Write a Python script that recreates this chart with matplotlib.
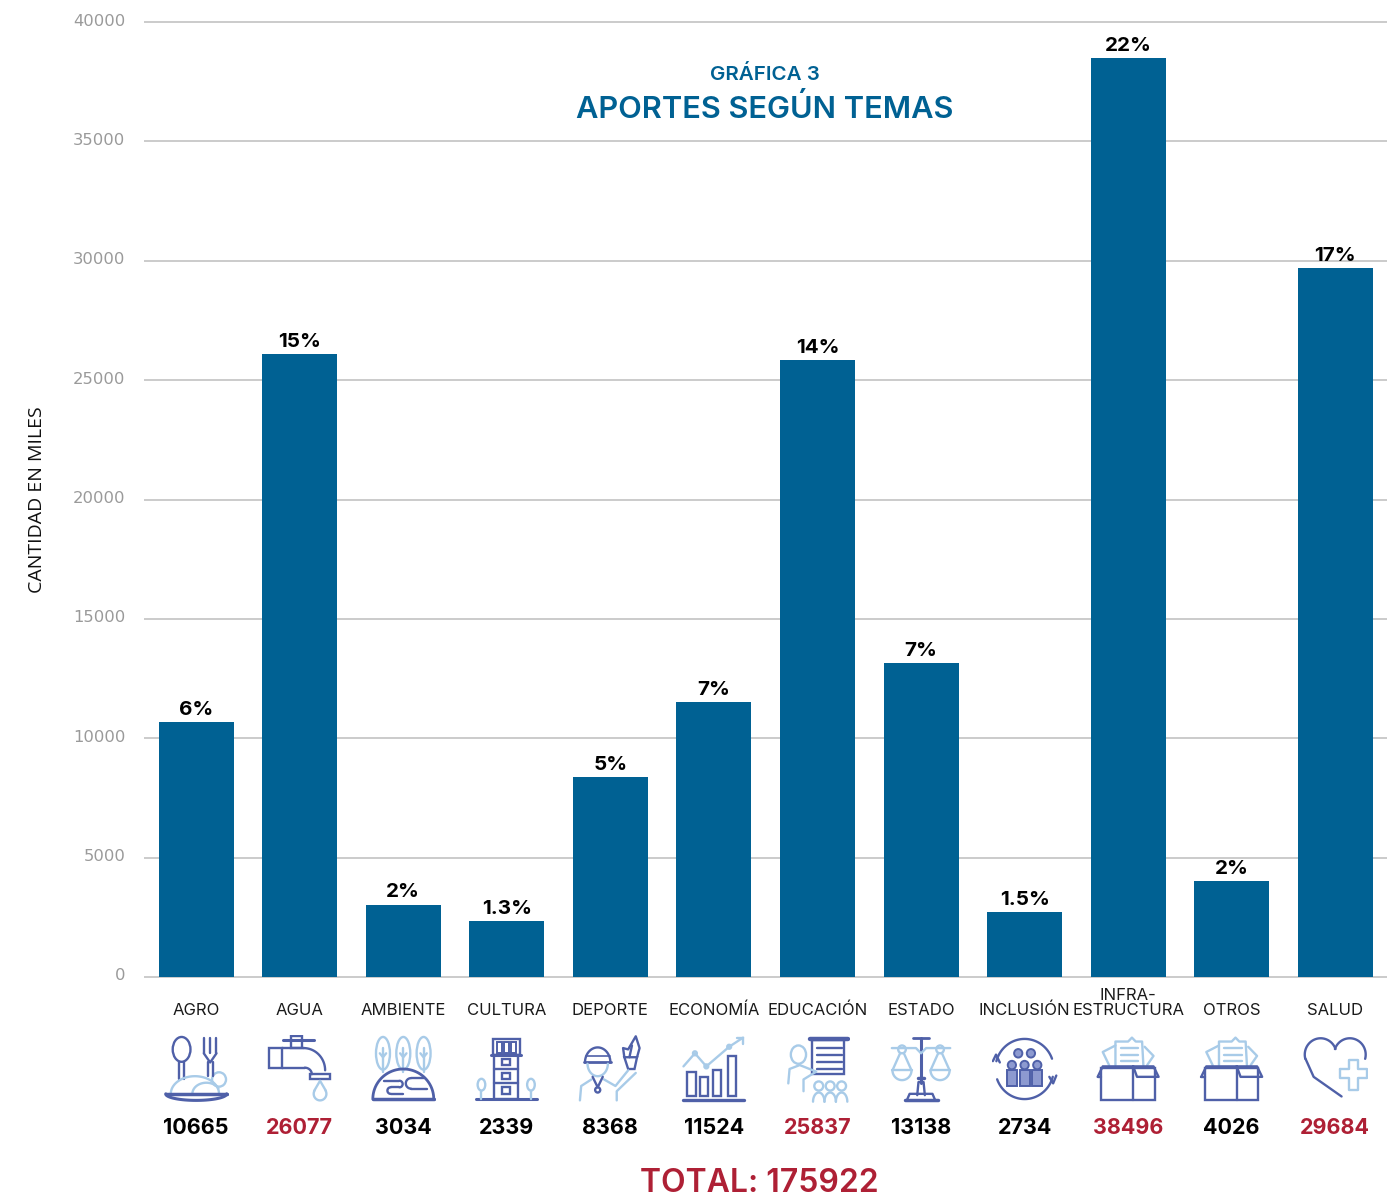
#!/usr/bin/env python3
import matplotlib

matplotlib.use('Agg')
import matplotlib.pyplot as plt
import numpy as np
from matplotlib.patches import Circle, Ellipse, Polygon, Rectangle
from matplotlib.transforms import ScaledTranslation

W, H = 1398, 1194

temas = ['AGRO', 'AGUA', 'AMBIENTE', 'CULTURA', 'DEPORTE', 'ECONOMÍA', 'EDUCACIÓN',
         'ESTADO', 'INCLUSIÓN', 'INFRA-\nESTRUCTURA', 'OTROS', 'SALUD']
valores = [10665, 26077, 3034, 2339, 8368, 11524, 25837, 13138, 2734, 38496, 4026, 29684]
porcentajes = ['6%', '15%', '2%', '1.3%', '5%', '7%', '14%', '7%', '1.5%', '22%', '2%', '17%']
yticks = [0, 5000, 10000, 15000, 20000, 25000, 30000, 35000, 40000]
total = 175922
umbral_rojo = 20000

AZUL = '#006193'
ROJO = '#ae2035'
OSCURO = '#4f60a8'
CLARO = '#a8cbe8'
FUENTE = 'Inter'


def line(ax, pts, color=OSCURO, lw=1.7):
    xs, ys = zip(*pts)
    ax.plot(xs, ys, color=color, lw=lw, solid_capstyle='round', solid_joinstyle='round')


def rect(ax, x, y, w, h, color=OSCURO, lw=1.7, fill='none'):
    ax.add_patch(Rectangle((x, y), w, h, fc=fill, ec=color, lw=lw))


def circ(ax, x, y, r, color=OSCURO, lw=1.7, fill='none'):
    ax.add_patch(Circle((x, y), r, fc=fill, ec=color, lw=lw))


def arc(ax, x, y, w, h, a, b, color=OSCURO, lw=1.7):
    # angulos como se ven en pantalla; el eje y de los iconos va invertido
    t = np.radians(np.linspace(a, b, 60))
    ax.plot(x + w / 2 * np.cos(t), y - h / 2 * np.sin(t), color=color, lw=lw,
            solid_capstyle='round')


def ell(ax, x, y, w, h, color=OSCURO, lw=1.7):
    ax.add_patch(Ellipse((x, y), w, h, fc='none', ec=color, lw=lw))


def icon_agro(ax):
    ell(ax, 27, 20, 28, 38)
    line(ax, [(23, 39), (23, 66)])
    line(ax, [(31, 39), (31, 66)])
    for x in (62, 72, 82):
        line(ax, [(x, 2), (x, 26)])
    line(ax, [(62, 26), (72, 40), (82, 26)])
    line(ax, [(68, 40), (68, 60)])
    line(ax, [(76, 40), (76, 60)])
    arc(ax, 48, 88, 76, 54, 0, 180, CLARO)
    arc(ax, 66, 88, 44, 34, 30, 180, CLARO)
    ell(ax, 86, 66, 22, 22, CLARO)
    line(ax, [(2, 88), (98, 88)], lw=2.5)
    arc(ax, 50, 88, 96, 20, 180, 360, lw=2.2)


def icon_agua(ax):
    rect(ax, 2, 18, 20, 30)
    line(ax, [(22, 18), (56, 18)])
    line(ax, [(22, 48), (58, 48)])
    line(ax, [(24, 6), (72, 6)], lw=2.2)
    rect(ax, 36, 0, 18, 18)
    arc(ax, 56, 52, 68, 68, 0, 90)
    arc(ax, 58, 58, 22, 20, 0, 90)
    rect(ax, 66, 58, 32, 8)
    arc(ax, 82, 88, 20, 20, 150, 390, CLARO)
    line(ax, [(73, 83), (82, 68), (91, 83)], CLARO)


def icon_ambiente(ax):
    for x in (18, 50, 82):
        ell(ax, x, 26, 22, 50, CLARO)
        line(ax, [(x, 18), (x, 54)], CLARO)
        line(ax, [(x - 5, 26), (x, 32), (x + 5, 26)], CLARO)
    arc(ax, 50, 96, 96, 92, 0, 180, lw=2)
    line(ax, [(2, 96), (98, 96)], lw=2.5)
    line(ax, [(20, 68), (44, 68)])
    arc(ax, 44, 73, 10, 10, -90, 90)
    line(ax, [(30, 78), (44, 78)])
    arc(ax, 30, 83, 10, 10, 90, 270)
    line(ax, [(30, 88), (50, 88)])
    line(ax, [(62, 64), (82, 64)])
    arc(ax, 62, 72, 16, 16, 90, 270)
    line(ax, [(62, 80), (88, 80)])


def icon_cultura(ax):
    rect(ax, 28, 4, 42, 24)
    for x in (34, 45, 56):
        rect(ax, x, 9, 8, 16, lw=1.4)
    line(ax, [(25, 28), (73, 28)], lw=2.2)
    rect(ax, 30, 28, 38, 68)
    line(ax, [(30, 50), (68, 50)])
    line(ax, [(30, 72), (68, 72)])
    for y in (34, 56, 78):
        rect(ax, 42, y, 13, 10, lw=1.7)
    line(ax, [(2, 96), (98, 96)], lw=2.2)
    for xc in (10, 88):
        ell(ax, xc, 74, 12, 18, CLARO)
        line(ax, [(xc, 83), (xc, 96)], CLARO)


def icon_deporte(ax):
    arc(ax, 30, 40, 40, 46, 0, 180)
    line(ax, [(9, 40), (51, 40)], lw=2)
    line(ax, [(11, 30), (49, 30)], OSCURO, lw=1.2)
    arc(ax, 30, 42, 32, 38, 180, 360, CLARO)
    line(ax, [(2, 98), (4, 76), (20, 66)], CLARO)
    line(ax, [(40, 66), (58, 76), (78, 52)], CLARO)
    line(ax, [(60, 98), (60, 84), (90, 56)], CLARO)
    line(ax, [(22, 62), (30, 78), (38, 62)])
    circ(ax, 30, 82, 4)
    ax.add_patch(Polygon([(72, 32), (92, 32), (88, 50), (78, 50)], fc='none', ec=OSCURO, lw=1.7))
    line(ax, [(72, 32), (70, 18), (78, 20), (90, 0), (96, 18), (92, 32)])
    line(ax, [(80, 32), (84, 14)])


def icon_economia(ax):
    for x, h in ((8, 38), (28, 30), (48, 40), (72, 62)):
        ax.add_patch(Rectangle((x, 92 - h), 13, h, fc='none', ec=OSCURO, lw=1.7))
    line(ax, [(2, 98), (98, 98)], lw=2.4)
    line(ax, [(2, 46), (20, 26), (38, 46), (74, 16), (96, 2)], CLARO)
    line(ax, [(86, 2), (96, 2), (96, 12)], CLARO)
    circ(ax, 20, 26, 3, CLARO)
    circ(ax, 38, 46, 3, CLARO)
    circ(ax, 74, 16, 3, CLARO)


def icon_educacion(ax):
    rect(ax, 42, 6, 50, 52)
    line(ax, [(38, 4), (98, 4)], lw=3.2)
    for y in (18, 29, 40, 50):
        line(ax, [(50, y), (88, y)])
    ell(ax, 20, 28, 24, 28, CLARO)
    line(ax, [(4, 72), (6, 50), (22, 44), (48, 54), (28, 66), (28, 84)], CLARO)
    for xc in (52, 70, 88):
        circ(ax, xc, 76, 7, CLARO)
        arc(ax, xc, 100, 18, 28, 0, 180, CLARO)


def icon_estado(ax):
    line(ax, [(50, 2), (50, 72)], lw=2.2)
    line(ax, [(38, 3), (62, 3)], lw=2)
    line(ax, [(4, 18), (42, 18), (50, 26), (58, 18), (96, 18)], CLARO)
    for xc in (20, 80):
        circ(ax, xc, 20, 6, CLARO)
        line(ax, [(xc - 3, 26), (xc - 15, 52)], CLARO)
        line(ax, [(xc + 3, 26), (xc + 15, 52)], CLARO)
        arc(ax, xc, 52, 30, 30, 180, 360, CLARO)
        line(ax, [(xc - 15, 52), (xc + 15, 52)], CLARO)
    line(ax, [(46, 64), (54, 64)], lw=2.5)
    line(ax, [(44, 90), (46, 70), (54, 70), (56, 90)])
    line(ax, [(24, 97), (76, 97)], lw=2.5)
    line(ax, [(28, 97), (32, 88), (68, 88), (72, 97)])


def icon_inclusion(ax):
    arc(ax, 50, 50, 92, 92, 20, 165)
    arc(ax, 50, 50, 92, 92, 200, 345)
    line(ax, [(89, 62), (95, 72), (100, 60)])
    line(ax, [(0, 38), (5, 28), (11, 40)])
    for xc, yc in ((40, 26), (60, 26), (30, 44), (50, 44), (70, 44)):
        circ(ax, xc, yc, 6.5, OSCURO, lw=1.4, fill='#8d9ad0')
    for xc in (30, 50, 70):
        rect(ax, xc - 8, 52, 16, 24, OSCURO, lw=1.4, fill='#8d9ad0')


def icon_caja(ax):
    line(ax, [(20, 44), (10, 24), (30, 14)], CLARO)
    line(ax, [(80, 44), (90, 30), (76, 16)], CLARO)
    line(ax, [(30, 44), (30, 8), (50, 8), (56, 2), (62, 8), (72, 8), (74, 44)], CLARO)
    for y in (18, 28, 38):
        line(ax, [(38, y), (66, y)], CLARO)
    rect(ax, 8, 48, 84, 50)
    line(ax, [(58, 48), (58, 98)])
    line(ax, [(2, 62), (10, 46), (90, 46), (98, 62), (64, 62), (58, 46)])
    line(ax, [(2, 62), (8, 62)])


def icon_salud(ax):
    arc(ax, 27, 28, 50, 50, 20, 195)
    arc(ax, 73, 28, 50, 50, -15, 160)
    line(ax, [(3, 34), (16, 62), (60, 92)])
    line(ax, [(58, 50), (72, 50), (72, 36), (86, 36), (86, 50), (100, 50), (100, 64), (86, 64),
              (86, 82), (72, 82), (72, 64), (58, 64), (58, 50)], CLARO)


iconos = [icon_agro, icon_agua, icon_ambiente, icon_cultura, icon_deporte, icon_economia,
          icon_educacion, icon_estado, icon_inclusion, icon_caja, icon_caja, icon_salud]


def main():
    plt.rcParams['font.family'] = [FUENTE, 'DejaVu Sans']
    fig = plt.figure(figsize=(W / 100, H / 100), dpi=100)
    ax = fig.add_axes([144 / W, 1 - 977 / H, (1387 - 144) / W, 955 / H])

    x = list(range(len(temas)))
    barras = ax.bar(x, valores, width=0.724, color=AZUL, zorder=3)
    ax.set_xlim(-0.504, 11.5)
    ax.set_ylim(0, 40000)

    for b, p in zip(barras, porcentajes):
        ax.annotate(p, (b.get_x() + b.get_width() / 2, b.get_height()), xytext=(0, 2.3),
                    textcoords='offset points', ha='center', va='bottom',
                    fontsize=14.8, fontweight='bold', color='black', zorder=4)

    ax.set_yticks(yticks)
    ax.tick_params(axis='y', length=0, pad=13.5, labelsize=11.8, labelcolor='#9a9a9a')
    subir = ScaledTranslation(0, 2.5 / 100, fig.dpi_scale_trans)
    for t in ax.get_yticklabels():
        t.set_family('DejaVu Sans')
        t.set_transform(t.get_transform() + subir)
    ax.grid(axis='y', color='#bdbdbd', lw=1.1, zorder=0, clip_on=False, solid_capstyle='butt')
    ax.set_axisbelow(True)
    for s in ax.spines.values():
        s.set_visible(False)

    ax.set_xticks(x, temas)
    ax.tick_params(axis='x', length=0, pad=29.5, labelsize=12, labelcolor='#1a1a1a')
    plt.setp(ax.get_xticklabels(), va='bottom', linespacing=1.0)

    trans = ax.get_xaxis_transform()
    for xi, v in zip(x, valores):
        ax.text(xi, -151 / 955, str(v), transform=trans, ha='center', va='center',
                fontsize=15.5, fontweight='bold', color=ROJO if v > umbral_rojo else 'black')

    fig.text(37 / W, 1 - 499.5 / H, 'CANTIDAD EN MILES', rotation=90, ha='center', va='center',
             fontsize=14, color='#111111', family=['Open Sans', 'DejaVu Sans'])
    fig.text(765 / W, 1 - 75 / H, 'GRÁFICA 3', ha='center', va='center',
             fontsize=14.8, fontweight='semibold', color=AZUL)
    fig.text(765 / W, 1 - 109 / H, 'APORTES SEGÚN TEMAS', ha='center', va='center',
             fontsize=22.2, fontweight='semibold', color=AZUL)
    fig.text(759 / W, 1 - 1192 / H, f'TOTAL: {total}', ha='center', va='baseline',
             fontsize=23, fontweight='semibold', color=ROJO)

    # iconos dibujados a mano, en una caja de 100x100 bajo cada barra
    for xi, dibujar in zip(x, iconos):
        cx = ax.transData.transform((xi, 0))[0]
        iax = fig.add_axes([(cx - 33) / W, 1 - 1103 / H, 66 / W, 68 / H])
        iax.set_xlim(-2, 102)
        iax.set_ylim(102, -2)
        iax.axis('off')
        dibujar(iax)

    fig.savefig('out.png', dpi=100)
    plt.close(fig)
    return 0


if __name__ == '__main__':
    raise SystemExit(main())
